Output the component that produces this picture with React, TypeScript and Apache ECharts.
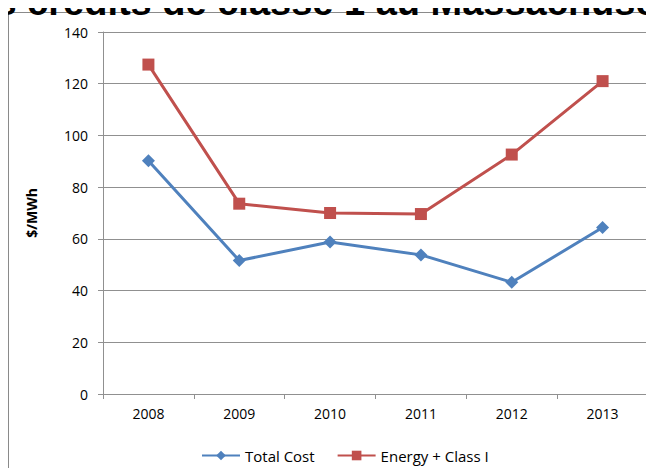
import React, { useEffect, useRef } from "react";
import * as echarts from "echarts";

const categories = ["2008", "2009", "2010", "2011", "2012", "2013"];
const totalCost = [90.2, 51.6, 58.8, 53.8, 43.2, 64.4];
const energyClassI = [127.4, 73.6, 70.0, 69.6, 92.6, 121.0];
const seriesNames = ["Total Cost", "Energy + Class I"];
const titleText = "Coût des crédits de classe 1 au Massachusetts";
const yAxisName = "$/MWh";

const FONT = "'Open Sans', 'Liberation Sans', sans-serif";
const GRID_COLOR = "#909090";

export default function App() {
  const ref = useRef<HTMLDivElement>(null);
  useEffect(() => {
    if (!ref.current) return;
    const chart = echarts.init(ref.current, undefined, { renderer: "svg" });
    chart.setOption({
      animation: false,
      backgroundColor: "#ffffff",
      textStyle: { fontFamily: FONT },
      graphic: [
        {
          type: "rect",
          shape: { x: 8.5, y: 12.5, width: 700, height: 500 },
          style: { fill: "none", stroke: "#8a8a8a", lineWidth: 1 },
          z: 0,
        },
        {
          type: "text",
          x: -146,
          y: 2,
          style: {
            text: titleText,
            font: "bold 38px 'Liberation Sans', Arial, sans-serif",
            fill: "#000000",
            align: "left",
            verticalAlign: "middle",
          },
        },
      ],
      grid: { left: 103, right: 6, top: 32, bottom: 82, containLabel: false },
      legend: {
        left: 196,
        bottom: 8,
        itemWidth: 38,
        itemHeight: 12,
        itemGap: 22,
        textStyle: { fontFamily: FONT, fontSize: 15, color: "#000" },
        data: seriesNames,
      },
      xAxis: {
        type: "category",
        data: categories,
        boundaryGap: true,
        axisLine: { show: true, lineStyle: { color: GRID_COLOR, width: 1 } },
        axisTick: { show: true, length: 5, alignWithLabel: false, lineStyle: { color: GRID_COLOR } },
        axisLabel: { color: "#000", fontSize: 14, fontFamily: FONT, margin: 12 },
        splitLine: { show: false },
      },
      yAxis: {
        type: "value",
        min: 0,
        max: 140,
        interval: 20,
        name: yAxisName,
        nameLocation: "middle",
        nameGap: 65,
        nameRotate: 90,
        nameTextStyle: { color: "#000", fontWeight: "bold", fontSize: 14, fontFamily: FONT },
        axisLine: { show: true, lineStyle: { color: GRID_COLOR, width: 1 } },
        axisTick: { show: true, length: 5, inside: false, lineStyle: { color: GRID_COLOR } },
        axisLabel: { color: "#000", fontSize: 14, fontFamily: FONT, margin: 15 },
        splitLine: { show: true, lineStyle: { color: GRID_COLOR, width: 1 } },
      },
      series: [
        {
          name: seriesNames[0],
          type: "line",
          data: totalCost,
          symbol: "diamond",
          symbolSize: 13,
          color: "#4F81BD",
          lineStyle: { width: 3, color: "#4F81BD" },
          itemStyle: { color: "#4F81BD" },
        },
        {
          name: seriesNames[1],
          type: "line",
          data: energyClassI,
          symbol: "rect",
          symbolSize: 12,
          color: "#C0504D",
          lineStyle: { width: 3, color: "#C0504D" },
          itemStyle: { color: "#C0504D" },
        },
      ],
    });
    return () => chart.dispose();
  }, []);
  return <div ref={ref} style={{ width: 654, height: 476, margin: -8 }} />;
}
